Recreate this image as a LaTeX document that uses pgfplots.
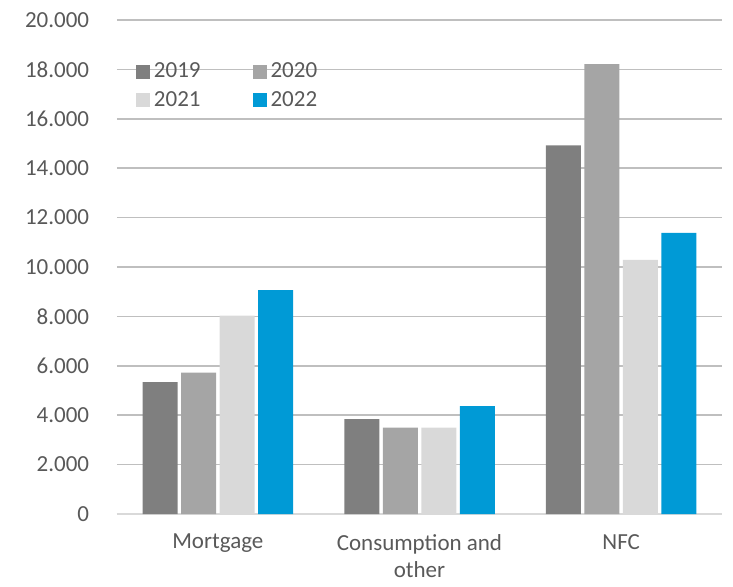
\documentclass[border=0pt]{standalone}
\usepackage{pgfplots}
\pgfplotsset{compat=1.18}
\usepackage{fontspec}
\setmainfont{Carlito}
\definecolor{c19}{HTML}{7F7F7F}
\definecolor{c20}{HTML}{A5A5A5}
\definecolor{c21}{HTML}{D9D9D9}
\definecolor{c22}{HTML}{009AD6}
\definecolor{txt}{HTML}{595959}
\definecolor{grid}{HTML}{D9D9D9}
\begin{document}
\fontsize{23pt}{28pt}\selectfont
\begin{tikzpicture}
\useasboundingbox (-117pt,-72pt) rectangle (616pt,514pt);
\begin{axis}[
  scale only axis,
  width=605pt, height=494pt,
  xmin=-0.5, xmax=2.5,
  ymin=0, ymax=20000,
  ytick distance=2000,
  xtick={0,1,2},
  xticklabels={Mortgage,{Consumption and\\other},NFC},
  xticklabel style={align=center, text=txt, font=\fontsize{23pt}{27pt}\selectfont, yshift=-20pt, inner sep=0pt},
  yticklabel style={text=txt, font=\fontsize{23pt}{28pt}\selectfont, xshift=-20pt},
  /pgf/number format/.cd, 1000 sep={.}, assume math mode=true,
  /pgfplots/.cd,
  scaled y ticks=false,
  ymajorgrids=true,
  xmajorgrids=false,
  grid style={grid, line width=1.5pt},
  axis lines*=left,
  y axis line style={draw=none},
  x axis line style={grid, line width=1.5pt, -},
  major tick length=0pt,
  ytick style={draw=none},
  xtick style={draw=none},
  ybar=3.5pt,
  bar width=35pt,
  legend style={draw=none, fill=none, at={(0.026,0.922)}, anchor=north west,
    legend columns=2, font=\fontsize{23pt}{28pt}\selectfont, text=txt,
    /tikz/every even column/.append style={column sep=50pt},
    /tikz/every odd column/.append style={column sep=2pt},
    row sep=6pt},
  legend image code/.code={\fill[#1] (0pt,-7pt) rectangle (14pt,7pt);},
]
\addplot[fill=c19, draw=none] coordinates {(0,5340) (1,3840) (2,14920)};
\addplot[fill=c20, draw=none] coordinates {(0,5720) (1,3500) (2,18210)};
\addplot[fill=c21, draw=none] coordinates {(0,8030) (1,3500) (2,10290)};
\addplot[fill=c22, draw=none] coordinates {(0,9060) (1,4370) (2,11380)};
\legend{2019,2020,2021,2022}
\end{axis}
\end{tikzpicture}
\end{document}
